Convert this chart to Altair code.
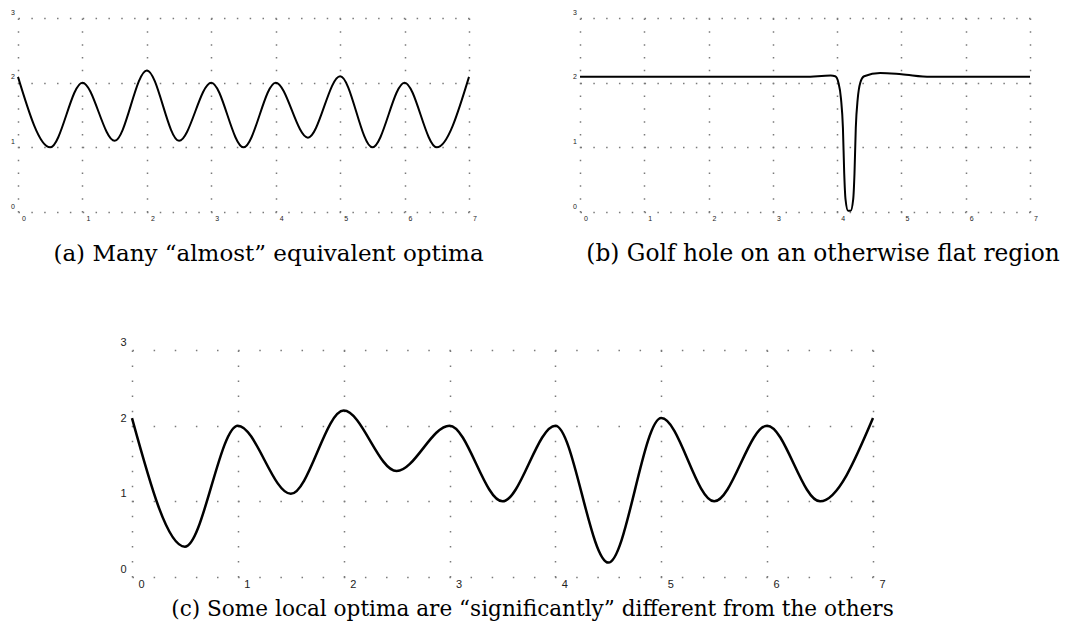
import altair as alt
import pandas as pd

# ---------------- data ----------------
x_ticks = [0, 1, 2, 3, 4, 5, 6, 7]
y_ticks = [0, 1, 2, 3]

# (a) Many "almost" equivalent optima
a_x = [0, 0.5, 1, 1.5, 2, 2.5, 3, 3.5, 4, 4.5, 5, 5.5, 6, 6.5, 7]
a_y = [2.09, 1.0, 2.0, 1.1, 2.19, 1.1, 2.0, 1.0, 2.0, 1.15, 2.1, 1.0, 2.0, 1.0, 2.09]

# (b) Golf hole on an otherwise flat region
b_x = [0, 3.5, 3.9, 3.97, 4.02, 4.06, 4.09, 4.11, 4.13, 4.17, 4.21, 4.25,
       4.27, 4.29, 4.32, 4.36, 4.42, 4.67, 5.0, 5.45, 7]
b_y = [2.09, 2.09, 2.11, 2.10, 2.0, 1.75, 1.3, 0.6, 0.2, 0.02, 0.02, 0.2,
       0.6, 1.3, 1.75, 2.0, 2.10, 2.15, 2.13, 2.09, 2.09]

# (c) Some local optima are "significantly" different
c_x = [0, 0.5, 1, 1.5, 2, 2.5, 3, 3.5, 4, 4.5, 5, 5.5, 6, 6.5, 7]
c_y = [2.1, 0.4, 2.0, 1.1, 2.2, 1.4, 2.0, 1.0, 2.0, 0.19, 2.1, 1.0, 2.0, 1.0, 2.1]

captions = [
    "(a) Many \u201calmost\u201d equivalent optima",
    "(b) Golf hole on an otherwise flat region",
    "(c) Some local optima are \u201csignificantly\u201d different from the others",
]


def panel(xs, ys, w, h, lab_size, lab_dx, lab_dy, stroke, caption, cap_dx,
          cap_offset, cap_size):
    df = pd.DataFrame({"x": xs, "y": ys})
    dot = 1.5
    xgrid = [dot, (h - dot) / 15 - dot]
    ygrid = [dot, (w - dot) / 35 - dot]
    common = dict(
        grid=True, gridColor="#7a7a7a", gridWidth=1.5, domain=False,
        ticks=False, tickSize=0, labelFont="Liberation Sans",
        labelFontSize=lab_size, labelColor="#222222", title=None,
        format="d", labelOverlap=False, labelFlush=False, labelBound=False,
    )
    x_axis = alt.Axis(values=x_ticks, gridDash=xgrid, labelPadding=lab_dy,
                      labelOffset=lab_dx, labelBaseline="middle",
                      labelAlign="center", **common)
    y_axis = alt.Axis(values=y_ticks, gridDash=ygrid, labelPadding=lab_dx,
                      labelOffset=-lab_dy, labelBaseline="middle",
                      labelAlign="center", **common)
    title = alt.TitleParams(
        caption, orient="bottom", anchor="middle", frame="group",
        offset=cap_offset, dx=cap_dx, font="DejaVu Serif", fontSize=cap_size,
        fontWeight="normal", color="black", baseline="alphabetic",
    )
    return (
        alt.Chart(df, title=title)
        .mark_line(interpolate="monotone", color="black", strokeWidth=stroke)
        .encode(
            x=alt.X("x:Q", scale=alt.Scale(domain=[0, 7], nice=False, zero=False),
                    axis=x_axis),
            y=alt.Y("y:Q", scale=alt.Scale(domain=[0, 3], nice=False, zero=False),
                    axis=y_axis),
        )
        .properties(width=w, height=h)
    )


pa = panel(a_x, a_y, 451, 194, 7, 5.5, 6, 2, captions[0], 25, 40, 23)
pb = panel(b_x, b_y, 450, 194, 7, 5.5, 6, 2, captions[1], 18, 40, 23.3)
pc = panel(c_x, c_y, 741, 227, 11, 9, 7.5, 2.5, captions[2], 30, 26, 21.6)

spacer = (
    alt.Chart(pd.DataFrame({"v": [0]}))
    .mark_point(opacity=0)
    .encode(x=alt.X("v:Q", axis=None), y=alt.Y("v:Q", axis=None))
    .properties(width=114, height=10)
)

row1 = alt.hconcat(pa, pb, spacing=111, bounds="flush")
row2 = alt.hconcat(spacer, pc, spacing=0, bounds="flush")

chart = (
    alt.vconcat(row1, row2, spacing=70, bounds="full")
    .properties(padding={"left": 2, "top": 0, "right": 0, "bottom": 4},
                background="white")
    .configure_view(stroke="transparent", strokeWidth=0)
)

chart.save("out.html", embed_options={"renderer": "svg", "actions": False})
